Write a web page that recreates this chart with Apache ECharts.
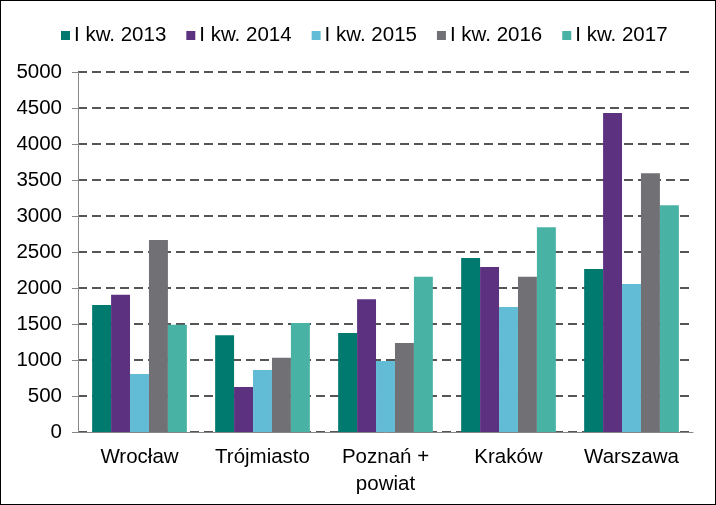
<!DOCTYPE html>
<html lang="pl">
<head>
    <meta charset="UTF-8">
    <title>I kw.</title>
    <script src="https://cdn.jsdelivr.net/npm/echarts@6/dist/echarts.min.js"></script>
    <style>
        html, body { margin: 0; padding: 0; background: #fff; }
        #chart {
            width: 714px;
            height: 503px;
            border: 1px solid #000;
        }
    </style>
</head>
<body>
<div id="chart"></div>
<script>
    var cities = ['Wrocław', 'Trójmiasto', 'Poznań +\npowiat', 'Kraków', 'Warszawa'];
    var seriesNames = ['I kw. 2013', 'I kw. 2014', 'I kw. 2015', 'I kw. 2016', 'I kw. 2017'];
    var q2013 = [1765, 1345, 1375, 2415, 2265];
    var q2014 = [1905, 625, 1845, 2290, 4430];
    var q2015 = [805, 860, 985, 1735, 2055];
    var q2016 = [2665, 1030, 1235, 2155, 3595];
    var q2017 = [1490, 1515, 2155, 2845, 3150];
    var colors = ['#007a6e', '#5c3180', '#63bcd5', '#717074', '#48b3a4'];

    var chart = echarts.init(document.getElementById('chart'));
    var values = [q2013, q2014, q2015, q2016, q2017];
    var series = seriesNames.map(function (name, i) {
        return {
            name: name,
            type: 'bar',
            data: values[i],
            barGap: '0%',
            barCategoryGap: '23%',
            itemStyle: { color: colors[i] }
        };
    });

    chart.setOption({
        animation: false,
        textStyle: { fontFamily: 'Liberation Sans, Arial, sans-serif' },
        legend: {
            top: 19,
            left: 55,
            itemWidth: 9,
            itemHeight: 9,
            itemGap: 20,
            icon: 'rect',
            textStyle: { fontSize: 20.5, color: '#000', padding: [0, 0, 0, -1] },
            data: seriesNames
        },
        grid: { left: 77, right: 22, top: 71, bottom: 72 },
        xAxis: {
            type: 'category',
            data: cities,
            axisLine: { lineStyle: { color: '#878787', width: 1 } },
            axisTick: { length: 6, lineStyle: { color: '#878787' } },
            axisLabel: { interval: 0, fontSize: 20.5, color: '#000', margin: 12, lineHeight: 27 }
        },
        yAxis: {
            type: 'value',
            min: 0,
            max: 5000,
            interval: 500,
            axisLine: { show: true, lineStyle: { color: '#878787', width: 1 } },
            axisTick: { show: true, length: 6, lineStyle: { color: '#878787' } },
            axisLabel: {
                fontSize: 20.5, color: '#000', margin: 16,
                formatter: function (v) { return String(v); }
            },
            splitLine: { lineStyle: { color: '#555', width: 2, type: [9, 5] } }
        },
        series: series
    });
</script>
</body>
</html>
